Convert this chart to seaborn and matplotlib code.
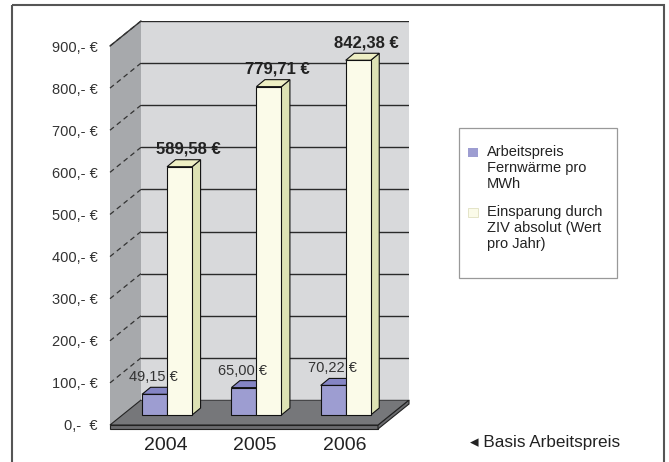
import pandas as pd
import matplotlib
matplotlib.use("Agg")
import matplotlib.pyplot as plt
from matplotlib.patches import Polygon, Rectangle
from matplotlib.transforms import Affine2D, ScaledTranslation
import seaborn as sns

years = ["2004", "2005", "2006"]
arbeitspreis = [49.15, 65.00, 70.22]
einsparung = [589.58, 779.71, 842.38]
series = ["Arbeitspreis\nFernwärme pro\nMWh", "Einsparung durch\nZIV absolut (Wert\npro Jahr)"]
yticks = list(range(0, 1000, 100))
ytick_labels = ["0,-  €"] + [f"{v},- €" for v in yticks[1:]]

df = pd.DataFrame({
    "Jahr": years * 2,
    "Wert": arbeitspreis + einsparung,
    "Serie": [series[0]] * 3 + [series[1]] * 3,
})

sns.set_theme(style="white")
FONT = ["Liberation Sans", "DejaVu Sans"]
plt.rcParams["font.family"] = FONT

W, H = 669, 462
fig = plt.figure(figsize=(W / 100, H / 100), dpi=100)
fig.patch.set_facecolor("white")
# pixel coords (x from left, y from top)
px = Affine2D().scale(1 / 100, -1 / 100).translate(0, H / 100) + fig.dpi_scale_trans

# back wall axes
L, R, T, B = 141, 409, 21, 400
ax = fig.add_axes([L / W, 1 - B / H, (R - L) / W, (B - T) / H])
ax.set_facecolor("#d8d9db")
ax.set_zorder(2)

# side wall and floor (drawn below the axes)
fig.add_artist(Polygon([(141, 21), (141, 400), (110, 425), (110, 46)], closed=True,
                       transform=px, facecolor="#a7a9ac", edgecolor="none", zorder=0.5))
fig.add_artist(Polygon([(110, 425), (378, 425), (378, 429), (110, 429)], closed=True,
                       transform=px, facecolor="#6a6b6e", edgecolor="#222", lw=0.8, zorder=0.6))
fig.add_artist(Polygon([(378, 425), (409, 400), (409, 404), (378, 429)], closed=True,
                       transform=px, facecolor="#6a6b6e", edgecolor="#222", lw=0.8, zorder=0.6))
fig.add_artist(Polygon([(141, 400), (409, 400), (378, 425), (110, 425)], closed=True,
                       transform=px, facecolor="#76777a", edgecolor="#222", lw=0.8, zorder=0.6))
fig.add_artist(plt.Line2D([110, 141], [46, 21], transform=px, color="#333", lw=1, zorder=0.7))
for v in yticks[1:]:
    yb = B - v * (B - T) / 900
    fig.add_artist(plt.Line2D([110, 141], [yb + 25, yb], transform=px, color="#333",
                              lw=0.9, ls=(0, (4, 3)), zorder=0.7))

purple, cream = "#9d9dd1", "#fbfbe9"
sns.barplot(data=df, x="Jahr", y="Wert", hue="Serie", palette=[purple, cream],
            width=0.56, saturation=1, edgecolor="#111", linewidth=0.8,
            legend=False, ax=ax, zorder=3)

ax.set_xlim(-0.5, 2.5)
ax.set_ylim(0, 900)
ax.set_yticks(yticks)
ax.set_yticklabels(ytick_labels)
ax.yaxis.grid(True, color="#2a2a2a", lw=1)
ax.set_axisbelow(True)
for s in ax.spines.values():
    s.set_visible(False)
ax.set_xlabel("")
ax.set_ylabel("")
ax.tick_params(axis="y", length=0, pad=31, labelsize=10.5, labelcolor="#333")
ax.tick_params(axis="x", length=0, pad=27, labelsize=14, labelcolor="#222")
for lab in ax.get_yticklabels():
    lab.set_transform(lab.get_transform() + ScaledTranslation(0, -0.25, fig.dpi_scale_trans))
for lab in ax.get_xticklabels():
    lab.set_transform(lab.get_transform() + ScaledTranslation(-0.20, 0, fig.dpi_scale_trans))

# bars sit in a plane in front of the back wall, with faux depth
plane = ax.transData + ScaledTranslation(-0.186, -0.15, fig.dpi_scale_trans)
dx = 8.5 * 3 / (R - L)
dy = 7 * 900 / (B - T)
faces = {purple: ("#7b7bb3", "#8585c4"), cream: ("#dde2b4", "#eeefc4")}
bars = [p for p in ax.patches if p.get_height() > 0]
for i, p in enumerate(bars):
    x0, w, h = p.get_x(), p.get_width(), p.get_height()
    x1 = x0 + w
    fc = purple if i < 3 else cream
    side_c, top_c = faces[fc]
    z = 3 + (0 if i < 3 else 2)
    p.set_transform(plane)
    p.set_clip_on(False)
    p.set_zorder(z + 1)
    ax.add_patch(Polygon([(x1, 0), (x1 + dx, dy), (x1 + dx, h + dy), (x1, h)], closed=True,
                         transform=plane, facecolor=side_c, edgecolor="#111", lw=0.8,
                         clip_on=False, zorder=z))
    ax.add_patch(Polygon([(x0, h), (x0 + dx, h + dy), (x1 + dx, h + dy), (x1, h)], closed=True,
                         transform=plane, facecolor=top_c, edgecolor="#111", lw=0.8,
                         clip_on=False, zorder=z))
    lbl = f"{h:.2f} €".replace(".", ",")
    if i < 3:
        ax.annotate(lbl, (x0 + w / 2, h + dy), xycoords=plane, xytext=(-1, 3),
                    textcoords="offset pixels", ha="center", va="bottom",
                    fontsize=10.5, color="#333", zorder=7, annotation_clip=False)
    else:
        ax.annotate(lbl, (x0 + w / 2 + dx, h + dy), xycoords=plane, xytext=(0, 3),
                    textcoords="offset pixels", ha="center", va="bottom",
                    fontsize=12, fontweight="bold", color="#222", zorder=7,
                    annotation_clip=False)

# legend box, drawn by hand so the swatch sits at the first text line
fig.add_artist(Rectangle((459, 128), 158, 150, transform=px, facecolor="white",
                         edgecolor="#999", lw=0.9, zorder=3))
for col, lab, ytop in zip([purple, cream], series, [148, 208]):
    fig.add_artist(Rectangle((468, ytop), 10, 9, transform=px, facecolor=col,
                             edgecolor="#e0e0c0" if col == cream else "none", lw=0.6, zorder=4))
    fig.text(487 / W, 1 - (ytop - 3) / H, lab, ha="left", va="top", fontsize=10.5,
             color="#222", linespacing=1.2, zorder=4)

fig.text(470 / W, 1 - 443 / H, "◂ Basis Arbeitspreis", ha="left", va="center",
         fontsize=12.3, color="#222")

fig.add_artist(Rectangle((12, 5), 652, 470, transform=px, fill=False,
                         edgecolor="#555", lw=1.5, clip_on=False, zorder=5))

fig.savefig("out.png", dpi=100)
